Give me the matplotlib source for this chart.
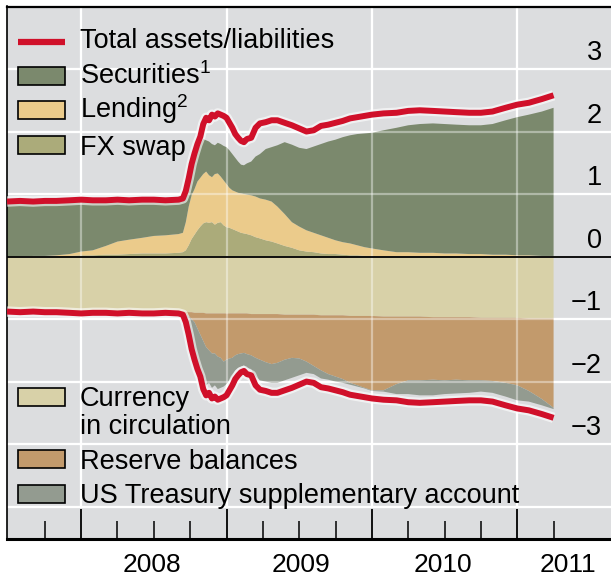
import numpy as np
import matplotlib
matplotlib.use('Agg')
import matplotlib.pyplot as plt
import matplotlib.transforms as mtransforms
import matplotlib.patheffects as pe
from matplotlib.patches import Rectangle
from matplotlib.lines import Line2D

# Fed balance sheet, USD trillions
dates = [2007.49, 2007.58, 2007.67, 2007.75, 2007.83, 2007.92, 2008.00, 2008.08, 2008.17, 2008.25,
         2008.33, 2008.42, 2008.50, 2008.58, 2008.67, 2008.70, 2008.72, 2008.74, 2008.76, 2008.78,
         2008.80, 2008.82, 2008.84, 2008.86, 2008.88, 2008.90, 2008.92, 2008.94, 2008.96, 2008.98,
         2009.00, 2009.02, 2009.04, 2009.06, 2009.08, 2009.10, 2009.12, 2009.14, 2009.17, 2009.20,
         2009.23, 2009.27, 2009.31, 2009.35, 2009.40, 2009.45, 2009.50, 2009.55, 2009.60, 2009.65,
         2009.70, 2009.75, 2009.80, 2009.85, 2009.90, 2009.95, 2010.00, 2010.08, 2010.17, 2010.25,
         2010.33, 2010.42, 2010.50, 2010.58, 2010.67, 2010.75, 2010.83, 2010.92, 2011.00, 2011.08,
         2011.17, 2011.25]

total = [0.88, 0.89, 0.88, 0.89, 0.89, 0.90, 0.91, 0.90, 0.90, 0.91,
         0.90, 0.91, 0.91, 0.90, 0.91, 0.93, 1.05, 1.25, 1.48, 1.65,
         1.80, 1.92, 2.12, 2.22, 2.18, 2.27, 2.24, 2.29, 2.27, 2.25,
         2.22, 2.14, 2.06, 1.96, 1.90, 1.85, 1.83, 1.88, 1.90, 2.06,
         2.13, 2.15, 2.18, 2.18, 2.14, 2.10, 2.05, 2.00, 2.02, 2.09,
         2.11, 2.14, 2.17, 2.21, 2.23, 2.25, 2.27, 2.29, 2.30, 2.33,
         2.34, 2.33, 2.32, 2.31, 2.30, 2.30, 2.32, 2.38, 2.43, 2.46,
         2.52, 2.58]

# assets
fx_swap = [0.00, 0.00, 0.00, 0.00, 0.00, 0.01, 0.02, 0.02, 0.03, 0.03,
           0.04, 0.05, 0.05, 0.05, 0.06, 0.07, 0.10, 0.18, 0.28, 0.35,
           0.42, 0.48, 0.53, 0.55, 0.54, 0.55, 0.51, 0.54, 0.55, 0.50,
           0.47, 0.46, 0.44, 0.42, 0.40, 0.38, 0.37, 0.36, 0.34, 0.31,
           0.29, 0.26, 0.24, 0.21, 0.17, 0.14, 0.10, 0.08, 0.07, 0.05,
           0.04, 0.04, 0.03, 0.02, 0.02, 0.01, 0.01, 0.00, 0.00, 0.00,
           0.00, 0.00, 0.00, 0.00, 0.00, 0.00, 0.00, 0.00, 0.00, 0.00,
           0.00, 0.00]

lending = [0.00, 0.00, 0.01, 0.01, 0.02, 0.03, 0.06, 0.08, 0.14, 0.21,
           0.23, 0.25, 0.28, 0.29, 0.30, 0.31, 0.45, 0.62, 0.70, 0.73,
           0.78, 0.78, 0.79, 0.81, 0.76, 0.72, 0.81, 0.79, 0.73, 0.72,
           0.69, 0.64, 0.62, 0.62, 0.62, 0.63, 0.63, 0.63, 0.64, 0.65,
           0.64, 0.65, 0.64, 0.59, 0.51, 0.41, 0.38, 0.34, 0.31, 0.29,
           0.26, 0.22, 0.20, 0.19, 0.16, 0.14, 0.12, 0.10, 0.07, 0.07,
           0.06, 0.06, 0.05, 0.05, 0.04, 0.04, 0.03, 0.03, 0.02, 0.02,
           0.01, 0.01]

securities = [0.84, 0.85, 0.83, 0.84, 0.83, 0.82, 0.79, 0.76, 0.69, 0.63,
              0.59, 0.57, 0.54, 0.52, 0.51, 0.51, 0.43, 0.35, 0.37, 0.42,
              0.48, 0.54, 0.56, 0.50, 0.54, 0.53, 0.46, 0.49, 0.52, 0.55,
              0.59, 0.60, 0.58, 0.54, 0.50, 0.46, 0.46, 0.50, 0.54, 0.64,
              0.71, 0.81, 0.87, 0.98, 1.15, 1.24, 1.26, 1.30, 1.38, 1.46,
              1.54, 1.61, 1.68, 1.73, 1.78, 1.82, 1.85, 1.92, 1.99, 2.03,
              2.06, 2.07, 2.07, 2.06, 2.06, 2.06, 2.09, 2.15, 2.21, 2.25,
              2.31, 2.37]

# liabilities (plotted downwards)
currency = [0.84, 0.85, 0.84, 0.85, 0.85, 0.86, 0.86, 0.86, 0.86, 0.87,
            0.86, 0.87, 0.87, 0.86, 0.87, 0.88, 0.88, 0.89, 0.89, 0.90,
            0.90, 0.90, 0.90, 0.91, 0.91, 0.91, 0.91, 0.91, 0.91, 0.91,
            0.91, 0.91, 0.91, 0.91, 0.91, 0.91, 0.91, 0.91, 0.92, 0.92,
            0.92, 0.92, 0.92, 0.92, 0.93, 0.93, 0.93, 0.93, 0.93, 0.94,
            0.94, 0.94, 0.94, 0.95, 0.95, 0.95, 0.95, 0.96, 0.96, 0.96,
            0.96, 0.97, 0.97, 0.97, 0.97, 0.98, 0.98, 0.98, 0.98, 0.99,
            0.99, 0.99]

reserves = [0.01, 0.01, 0.01, 0.01, 0.01, 0.01, 0.01, 0.01, 0.01, 0.01,
            0.01, 0.01, 0.01, 0.01, 0.01, 0.02, 0.04, 0.06, 0.11, 0.15,
            0.25, 0.35, 0.45, 0.54, 0.59, 0.64, 0.64, 0.69, 0.71, 0.77,
            0.74, 0.72, 0.71, 0.67, 0.65, 0.64, 0.63, 0.65, 0.66, 0.70,
            0.73, 0.77, 0.80, 0.78, 0.72, 0.69, 0.70, 0.75, 0.82, 0.88,
            0.94, 0.98, 1.02, 1.07, 1.11, 1.15, 1.19, 1.18, 1.08, 1.02,
            1.02, 1.00, 1.01, 1.00, 1.01, 1.00, 1.01, 1.04, 1.08, 1.16,
            1.29, 1.43]

treasury = [0.00, 0.00, 0.00, 0.00, 0.00, 0.00, 0.00, 0.00, 0.00, 0.00,
            0.00, 0.00, 0.00, 0.00, 0.00, 0.00, 0.06, 0.23, 0.40, 0.53,
            0.57, 0.59, 0.63, 0.61, 0.52, 0.55, 0.51, 0.52, 0.48, 0.40,
            0.39, 0.35, 0.28, 0.24, 0.22, 0.21, 0.20, 0.22, 0.22, 0.30,
            0.33, 0.31, 0.30, 0.32, 0.33, 0.32, 0.27, 0.18, 0.13, 0.13,
            0.09, 0.08, 0.06, 0.03, 0.02, 0.01, 0.01, 0.02, 0.16, 0.22,
            0.24, 0.25, 0.22, 0.22, 0.20, 0.18, 0.19, 0.22, 0.24, 0.17,
            0.10, 0.02]

y_ticks = [3, 2, 1, 0, -1, -2, -3]
year_labels = ['2008', '2009', '2010', '2011']
year_label_pos = [2008.49, 2009.51, 2010.49, 2011.35]

# colours
bg = '#dcdddf'
c_sec = '#7b896d'
c_lend = '#ebcb8b'
c_fx = '#abab7a'
c_cur = '#d8d1a8'
c_res = '#c29a6c'
c_tre = '#939b90'
c_red = '#d0102a'

plt.rcParams['font.family'] = ['Liberation Sans', 'DejaVu Sans']
plt.rcParams['mathtext.fontset'] = 'custom'
plt.rcParams['mathtext.rm'] = 'Liberation Sans'
plt.rcParams['mathtext.default'] = 'rm'

W, H = 611, 578
fig = plt.figure(figsize=(W / 100, H / 100), dpi=100)
ax = fig.add_axes([7 / W, (H - 538.5) / H, (W - 7) / W, 532 / H])
ax.set_facecolor(bg)
ax.set_xlim(2007.49, 2011.645)
ax.set_ylim(-4.51, 4.0)

t = np.array(dates)

# white grid under the areas, faint grid on top
for v in range(-4, 4):
    if v != 0:
        ax.axhline(v, color='white', lw=1.6, zorder=0.5)
        ax.axhline(v, color='white', lw=1.6, alpha=0.4, zorder=1.5)
for yr in [2008, 2009, 2010, 2011]:
    ax.vlines(yr, -4, 4, color='white', lw=1.6, zorder=0.5)
    ax.vlines(yr, -4, 4, color='white', lw=1.6, alpha=0.4, zorder=1.5)

ax.stackplot(t, fx_swap, lending, securities, colors=[c_fx, c_lend, c_sec],
             linewidth=0, zorder=1)
ax.stackplot(t, -np.array(currency), -np.array(reserves), -np.array(treasury),
             colors=[c_cur, c_res, c_tre], linewidth=0, zorder=1)

ax.axhline(0, color='black', lw=1.3, zorder=2)

halo = [pe.Stroke(linewidth=7.5, foreground='white', alpha=0.6), pe.Normal()]
tot = np.array(total)
ax.plot(t, tot, color=c_red, lw=4.3, zorder=3, path_effects=halo, solid_capstyle='butt')
ax.plot(t, -tot, color=c_red, lw=4.3, zorder=3, path_effects=halo, solid_capstyle='butt')

# axes frame
ax.spines['right'].set_visible(False)
ax.spines['top'].set_linewidth(1.6)
ax.spines['left'].set_linewidth(1.2)
ax.spines['bottom'].set_linewidth(2.2)

ax.set_yticks([])
ax.set_xticks([2008, 2009, 2010, 2011])
ax.set_xticks(np.arange(2007.75, 2011.3, 0.25), minor=True)
ax.tick_params(axis='x', which='major', direction='in', length=21.5, width=1.3,
               labelbottom=False)
ax.tick_params(axis='x', which='minor', direction='in', length=13, width=1.1)

# value labels on the right, sitting above their gridline
ytrans = mtransforms.blended_transform_factory(ax.transAxes, ax.transData)
for v in y_ticks:
    lab = str(v).replace('-', '\u2212')
    ax.text(0.985, v + 0.144, lab, transform=ytrans, ha='right', va='baseline',
            fontsize=19.5)

xtrans = mtransforms.blended_transform_factory(ax.transData, ax.transAxes)
for pos, lab in zip(year_label_pos, year_labels):
    ax.text(pos, -0.0635, lab, transform=xtrans, ha='center', va='baseline',
            fontsize=19)

# legend drawn by hand in pixel positions
def fx_(x):
    return x / W

def fy_(y):
    return 1 - y / H

fig.add_artist(Line2D([fx_(18), fx_(65)], [fy_(41.5), fy_(41.5)], color=c_red, lw=4.5,
                      solid_capstyle='butt'))
fig.text(fx_(80), fy_(48), 'Total assets/liabilities', fontsize=19.5, va='baseline')

entries = [
    (c_sec, 76, 84, 'Securities$^{1}$'),
    (c_lend, 110, 118, 'Lending$^{2}$'),
    (c_fx, 145, 155, 'FX swap'),
    (c_cur, 397, 406, 'Currency'),
    (c_res, 459, 469, 'Reserve balances'),
    (c_tre, 494, 503, 'US Treasury supplementary account'),
]
for col, yc, base, lab in entries:
    fig.add_artist(Rectangle((fx_(18), fy_(yc + 9)), 47 / W, 18 / H, transform=fig.transFigure,
                             facecolor=col, edgecolor='black', lw=1.2))
    fig.text(fx_(80), fy_(base), lab, fontsize=19.5, va='baseline')
fig.text(fx_(80), fy_(434), 'in circulation', fontsize=19.5, va='baseline')

fig.savefig('out.png', dpi=100)
